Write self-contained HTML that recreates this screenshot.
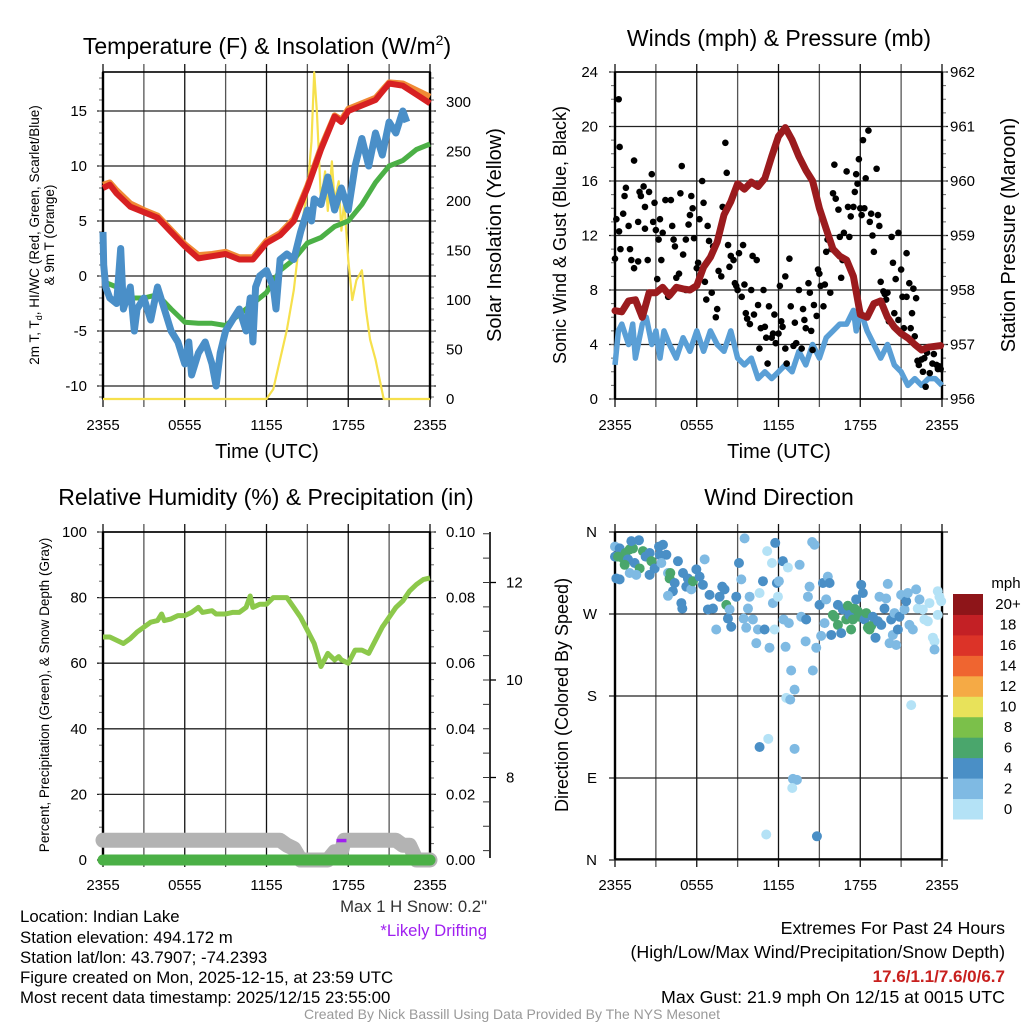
<!DOCTYPE html>
<html><head><meta charset="utf-8">
<style>
html,body{margin:0;padding:0;background:#fff;}
svg{display:block;font-family:"Liberation Sans",Arial,sans-serif;}
.t{font-size:16.8px;fill:#000;}
</style></head>
<body>
<svg id="fig" width="1024" height="1024" viewBox="0 0 1024 1024" xmlns="http://www.w3.org/2000/svg">
<g id="static">
<text x="267" y="54" text-anchor="middle" font-size="23">Temperature (F) &amp; Insolation (W/m<tspan font-size="14" dy="-9">2</tspan><tspan dy="9">)</tspan></text>
<text x="779" y="46" text-anchor="middle" font-size="23">Winds (mph) &amp; Pressure (mb)</text>
<text x="266" y="505" text-anchor="middle" font-size="23">Relative Humidity (%) &amp; Precipitation (in)</text>
<text x="779" y="505" text-anchor="middle" font-size="23">Wind Direction</text>

<text x="267" y="458" text-anchor="middle" font-size="20">Time (UTC)</text>
<text x="779" y="458" text-anchor="middle" font-size="20">Time (UTC)</text>

<text transform="translate(39,235) rotate(-90)" text-anchor="middle" font-size="13.5">2m T, T<tspan font-size="9" dy="3">d</tspan><tspan dy="-3">, HI/WC (Red, Green, Scarlet/Blue)</tspan></text>
<text transform="translate(54,235) rotate(-90)" text-anchor="middle" font-size="13.5">&amp; 9m T (Orange)</text>
<text transform="translate(501,235) rotate(-90)" text-anchor="middle" font-size="20">Solar Insolation (Yellow)</text>
<text transform="translate(566,235) rotate(-90)" text-anchor="middle" font-size="18">Sonic Wind &amp; Gust (Blue, Black)</text>
<text transform="translate(1015,235) rotate(-90)" text-anchor="middle" font-size="20">Station Pressure (Maroon)</text>
<text transform="translate(49,695) rotate(-90)" text-anchor="middle" font-size="13.5">Percent, Precipitation (Green), &amp; Snow Depth (Gray)</text>
<text transform="translate(568,695) rotate(-90)" text-anchor="middle" font-size="18">Direction (Colored By Speed)</text>

<g class="t">
<text x="20" y="922">Location: Indian Lake</text>
<text x="20" y="943">Station elevation: 494.172 m</text>
<text x="20" y="963">Station lat/lon: 43.7907; -74.2393</text>
<text x="20" y="983">Figure created on Mon, 2025-12-15, at 23:59 UTC</text>
<text x="20" y="1003">Most recent data timestamp: 2025/12/15 23:55:00</text>
</g>
<text x="487" y="912" text-anchor="end" font-size="16.7" fill="#333">Max 1 H Snow: 0.2"</text>
<text x="487" y="936" text-anchor="end" font-size="16.7" fill="#a020f0">*Likely Drifting</text>
<text x="1005" y="934" text-anchor="end" font-size="17.8">Extremes For Past 24 Hours</text>
<text x="1005" y="958" text-anchor="end" font-size="17.8">(High/Low/Max Wind/Precipitation/Snow Depth)</text>
<text x="1005" y="982" text-anchor="end" font-size="17" font-weight="bold" fill="#c8201e">17.6/1.1/7.6/0/6.7</text>
<text x="1005" y="1003" text-anchor="end" font-size="17.8">Max Gust: 21.9 mph On 12/15 at 0015 UTC</text>
<text x="512" y="1019" text-anchor="middle" font-size="14" fill="#999">Created By Nick Bassill Using Data Provided By The NYS Mesonet</text>
</g>
<g id="dyn"></g>
</svg>
<script>
// ---------- data ----------
const xTickLabels = ["2355","0555","1155","1755","2355"];
// Temperature panel (hours since 2355)
const tempTimes = [0,0.5,1,2,3,4,5,6,7,8,9,10,11,12,13,14,15,16,17,17.5,18,19,20,21,22,23,24];
const temp2m    = [8,8.3,7.5,6.3,5.8,5.3,4,2.7,1.6,1.8,2,1.5,1.5,3,3.7,5,8,11.5,14.5,14,15,15.5,16,17.5,17.3,16.5,15.7];
const temp9m    = [8.3,8.5,7.8,6.6,6,5.5,4.2,2.9,1.9,2,2.2,1.7,1.7,3.2,3.9,5.2,8.2,11.7,14.6,14.2,15.2,15.7,16.2,17.6,17.5,16.9,16.3];
const dewTimes  = [0,1,2,3,4,5,6,7,8,9,10,11,12,13,14,15,16,17,18,19,20,21,22,23,24];
const dewpoint  = [-0.5,-1,-2,-2,-1.7,-3,-4.2,-4.3,-4.3,-4.5,-3.5,-2.5,-1.5,0.5,1.5,3,3.5,4.5,5,6.5,8.5,10,10.5,11.5,12];
const wcTimes   = [0,0.05,0.2,0.5,1,1.3,1.5,2,2.3,2.5,3,3.5,4,4.5,5,5.5,6,6.3,6.5,7,7.5,8,8.3,8.6,9,9.5,10,10.5,10.8,11,11.2,11.5,12,12.5,12.7,13,13.5,14,14.5,15,15.3,15.5,16,16.5,17,17.5,18,18.5,19,19.5,20,20.5,21,21.5,22,22.3];
const windChill = [4,1,-1,-2,-2.5,2.5,-3,-1,-5,-3,-2,-4,-1,-3,-5,-6,-8,-6,-9,-7,-6,-8,-10,-7,-5,-4,-3,-5,-2,-6,-1,0,0.5,-1,-3,1.5,2,1.5,4,6,5,7,6.5,9,6,8,6,10,12.5,10,13,11,14,13,15,14];
const solTimes  = [0,12,12.5,13,13.5,14,14.5,15,15.3,15.5,15.7,16,16.3,16.5,16.8,17,17.3,17.5,17.7,18,18.3,18.6,19,19.3,19.6,20,20.3,20.6,24];
const solar     = [0,0,10,40,70,110,170,210,260,330,290,200,230,190,240,200,220,170,200,140,100,120,130,90,60,40,20,0,0];
const tempTicks = [-10,-5,0,5,10,15];
const solTicks  = [0,50,100,150,200,250,300];
// Winds panel
const windTimes = [0,0.25,0.5,1,1.3,1.5,2,2.3,2.7,3,3.3,3.6,4,4.5,5,5.5,6,6.5,7,7.5,8,8.5,9,9.5,10,10.5,11,11.5,12,12.5,13,13.5,14,14.5,15,15.5,16,16.5,17,17.5,17.7,18,18.5,19,19.5,20,20.5,21,21.5,22,22.5,23,23.5,24];
const windSpeed = [2.5,5,5.5,4,5.5,3,5.5,6,4,5,3,5,4,3,4.5,3.5,5,3.5,5,4,3.5,5,3,2.5,3,1.5,2,1.5,2,2.5,2,3.5,2.5,4,3,4.5,5,5.5,5.5,6.5,5,6.5,5,4,3,4,2.5,2,1,1.5,1,1.5,1.5,1];
const presTimes = [0,0.5,1,1.5,2,2.5,3,3.5,4,4.5,5,5.5,6,6.5,7,7.5,8,8.5,9,9.5,10,10.5,11,11.5,12,12.5,13,13.5,14,14.5,15,15.5,16,16.5,17,17.5,18,18.5,19,19.5,20,20.5,21,21.5,22,22.5,23,23.9];
const pressure  = [957.62,957.6,957.8,957.82,957.5,957.95,957.95,958.05,957.9,958.05,958.02,958,958.08,958.42,958.6,958.88,959.38,959.62,959.95,959.85,959.98,959.9,960.05,960.45,960.82,960.98,960.75,960.45,960.2,960,959.5,959.12,958.75,958.62,958.55,958.25,957.55,957.5,957.75,957.8,957.5,957.32,957.2,957.12,957,956.9,956.95,956.98];
const gustTimes = [0.27,0,0.1,0.34,0.4,0.3,0.6,0.7,0.8,1,1.1,1.2,1.4,1.4,1.7,1.7,1.8,1.9,2.1,2.2,2.2,2.4,2.5,2.7,2.8,2.9,3,3.1,3.2,3.3,3.4,3.5,3.7,3.9,4.1,4.2,4.3,4.4,4.5,4.7,4.8,4.9,5,5.2,5.2,5.4,5.5,5.6,5.7,5.8,6,6.1,6.2,6.4,6.5,6.6,6.7,6.8,6.9,7.1,7.2,7.4,7.5,7.6,7.8,7.9,8.1,8.2,8.3,8.4,8.5,8.7,8.8,8.9,9,9.1,9.3,9.4,9.5,9.6,9.7,9.9,10,10.1,10.2,10.4,10.5,10.6,10.7,10.9,11,11.1,11.2,11.3,11.5,11.6,11.7,11.8,12,12.1,12.2,12.3,12.5,12.5,12.6,12.8,12.9,13.1,13.2,13.3,13.5,13.7,13.8,13.9,14,14.2,14.3,14.4,14.5,14.6,14.8,14.9,15,15.1,15.3,15.4,15.5,15.6,15.8,15.9,16,16.1,16.2,16.4,16.5,16.6,16.7,16.8,17,17.1,17.2,17.3,17.5,17.6,17.7,17.8,17.9,18,18.1,18.2,18.3,18.4,18.6,18.7,18.8,18.9,19,19.2,19.3,19.4,19.5,19.7,19.8,19.9,20,20.1,20.3,20.4,20.5,20.6,20.8,20.8,21,21.1,21.2,21.4,21.4,21.6,21.7,21.8,21.9,22,22.1,22.2,22.3,22.5,22.6,22.7,22.8,22.9,23.1,23.3,23.4,23.6,23.7,23.8,23.9];
const gustSpeed = [22,10.3,13.2,18.5,11,12.3,13.6,14.9,15.5,12.7,11,10.2,17.5,9.6,10.1,13,15.2,14.9,15.6,14.1,12.5,10.2,15.2,16.5,13,14.4,12.4,8.8,11.7,13.2,10.2,12.2,14.6,7.5,14.6,12.7,11.7,11.2,8.9,9.2,15.1,17.1,10.6,8,11.7,12.8,13.5,14.9,14,11.8,9.6,10,13.2,16,14.4,8.6,7.3,12.7,11.6,7.8,11.2,6,6.6,9.4,9,14.1,18.8,16.6,11.3,9.7,10.5,10.2,8.5,8.3,8,10.7,7.5,11.3,8.4,6.3,5.9,5.5,8,10.5,6.2,10.2,6.9,3.7,5.2,8,5.3,4.5,2.6,6.8,4.5,4.8,6.2,4.1,4.8,8.3,5.7,5.3,9,3.7,2.6,10.3,6.8,3.9,5.6,4.1,8,3.7,6.6,5.8,5.2,8.5,7.8,5,3.6,6.9,6.1,9.5,9.2,8.3,6.8,8.4,10.8,11.7,7.8,11,15.1,17.2,14.7,13.9,11.9,8.9,10.2,12.2,16.7,14.1,11.9,13.4,14.1,15.2,16.5,15.8,17.6,14,13.5,19,14,16.2,19.7,13,13.6,12,10.8,16.9,13.5,12.7,8.6,7.9,7.7,7.3,7.8,5.7,11.9,10,6.3,8.8,5.8,12.2,9.5,7.5,5.2,7.5,10.7,8.5,5.2,6.3,8.1,4.6,7.4,2.8,2.5,2.9,2,3,0.9,3.4,1.9,2.6,3.3,2.5,2.2,2.4,2.2];
const windTicks = [0,4,8,12,16,20,24];
const presTicks = [956,957,958,959,960,961,962];
// Humidity panel
const rhTimes = [0,0.5,1,1.5,2,2.5,3,3.5,4,4.3,4.5,5,5.5,6,6.5,7,7.3,8,8.3,9,9.5,10,10.5,10.8,11,11.5,12,12.5,13,13.5,14,14.5,15,15.5,16,16.5,17,17.3,17.5,18,18.5,19,19.5,20,20.5,21,21.5,22,22.5,23,23.5,24];
const rh      = [68,68,67,66,67.5,69.5,71,72.5,73,75,73,73.5,74.5,74.5,75.5,77,75.5,76,75,75,75.5,75.5,77,80.5,77,78,78,80,80,80,77,74,70,66,59,63,61,62,61,60,64,64,63,67,71,74,77,79,82,84,85.5,86];
const snowTimes = [0,13,13.5,14,14.5,16.5,17,17.5,17.7,21.5,22,22.5,23,24];
const snowDepth = [6,6,4.5,3.5,0,0,2.5,2.5,6,6,4.5,4.5,0,0];
const precipTimes = [0,24];
const precip = [0,0];
const driftTime = 17.5, driftValue = 6;
const rhTicks = [0,20,40,60,80,100];
const precipTicks = ["0.00","0.02","0.04","0.06","0.08","0.10"];
const snowTicks = [8,10,12];
// Wind direction panel
const dirTimes = [0,0,0.34,0.22,0.59,0.78,1.08,1.32,1.2,1.76,0.95,1.44,1.81,1.56,1.08,0.34,0.1,0.71,2.05,2.25,2.54,2.67,2.91,2.54,3.23,3.52,3.28,3.77,3.4,3.89,4.06,4.01,4.38,4.25,3.89,4.62,4.99,4.87,4.94,5.23,5.35,5.6,5.72,5.97,6.21,6.45,6.58,6.82,6.94,7.19,7.43,7.68,7.87,8.04,8.17,8.41,8.29,8.53,8.9,9.1,9.27,9.44,9.51,9.63,9.76,9.88,10.12,10.49,10.61,10.37,10.86,10.98,11.17,11.34,11.52,11.59,11.71,11.76,11.88,11.96,12.03,12.32,12.37,12.52,12.69,12.76,12.93,13.18,12.57,12.86,10.61,11.25,13.18,13.06,13.35,13.01,11.1,14.82,13.55,13.67,14.03,13.99,14.16,14.28,14.47,14.64,14.52,14.77,15.01,15.13,15.26,15.38,15.5,15.62,15.75,15.87,15.99,16.11,16.36,16.36,16.6,16.72,16.97,17.09,17.21,17.33,17.46,17.58,17.7,17.82,17.95,18.07,18.19,18.31,18.44,18.56,18.68,18.8,18.92,19.12,19.29,19.41,19.54,19.78,19.9,20.02,20.15,20.27,20.39,20.51,20.64,20.76,20.88,21,21.25,21.37,21.49,21.61,21.74,21.86,22.1,22.22,22.35,22.59,22.71,22.96,23.08,23.33,23.45,23.45,23.69,23.81,23.94,23.69];
const dirDegrees = [344,333,342,333,331,337,341,342,350,351,330,326,320,313,315,308,309,324,339,333,337,328,320,313,344,346,335,335,326,315,315,309,304,295,290,328,315,282,276,300,309,297,306,319,311,302,330,275,291,276,253,289,300,297,280,275,265,256,289,326,308,265,353,255,276,289,264,253,293,238,306,253,339,233,326,282,253,348,304,289,306,328,264,234,321,260,208,187,178,176,124,133,122,89,88,79,28,26,324,267,264,240,289,300,349,346,208,233,280,246,304,260,286,311,304,247,269,267,280,258,249,275,264,279,269,253,264,276,286,273,267,302,293,264,271,255,253,257,267,244,262,289,258,276,287,303,238,264,247,271,236,253,267,291,275,284,293,258,170,253,297,276,286,275,264,262,282,244,240,231,295,289,284,269];
const dirSpeed = [3,5,5,7,7,7,7,7,5,5,5,5,7,3,3,5,5,7,7,5,5,7,5,5,5,5,5,5,3,3,7,7,5,5,3,5,5,5,5,5,5,3,7,5,5,5,3,5,5,5,3,5,5,5,7,3,5,5,5,5,3,3,3,3,3,3,3,3,1,3,5,5,1,3,1,3,1,5,5,1,3,5,3,3,1,3,3,3,1,3,5,1,3,3,3,1,1,5,3,3,5,3,3,3,3,3,3,3,5,3,5,3,3,3,5,5,7,7,5,7,5,5,7,7,5,7,7,7,5,7,7,5,5,5,7,7,7,7,5,5,5,3,5,5,3,3,3,5,3,3,3,5,5,3,3,5,3,3,1,3,3,1,3,1,1,1,1,1,1,3,1,1,1,1];
const dirTickLabels = ["N","E","S","W","N"];
const speedBinLabels = ["0","2","4","6","8","10","12","14","16","18","20+"];
const speedColors = ["#b4e2f6","#7fbae3","#4a8fc6","#4aa66c","#7bc04a","#e8e25a","#f5aa45","#ef6530","#dc3328","#c32025","#8e1519"];

// ---------- helpers ----------
const NS="http://www.w3.org/2000/svg";
const root=document.getElementById('dyn');
function mk(tag,attrs,parent){const e=document.createElementNS(NS,tag);for(const k in attrs)e.setAttribute(k,attrs[k]);(parent||root).appendChild(e);return e;}
function pts(ts,vs,fx,fy){return ts.map((t,i)=>fx(t).toFixed(1)+','+fy(vs[i]).toFixed(1)).join(' ');}

function panel(x0,y0,name){
  const P={x0:x0,x1:x0+327,y0:y0,y1:y0+327};
  P.x=t=>P.x0+t*(327/24);
  const g=mk('g',{});
  
  
  P.g=g;
  return P;
}
function grid(P,ys,minorYs){
  for(let h=0;h<=24;h+=3){
    const x=P.x(h);
    const l=mk('line',{x1:x,x2:x,y1:P.y0-8,y2:P.y1+8,stroke:(h%6==0?'#111':'#555'),'stroke-width':1.3},P.g);
    
    
  }
  ys.forEach(y=>{
    const l=mk('line',{x1:P.x0-6,x2:P.x1+6,y1:y,y2:y,stroke:'#222','stroke-width':1.3},P.g);
    
    
  });
  (minorYs||[]).forEach(y=>{
    mk('line',{x1:P.x0-4,x2:P.x0,y1:y,y2:y,stroke:'#666','stroke-width':1},P.g);
    mk('line',{x1:P.x1,x2:P.x1+4,y1:y,y2:y,stroke:'#666','stroke-width':1},P.g);
  });
  const f=mk('rect',{x:P.x0,y:P.y0,width:327,height:327,fill:'none',stroke:'#000','stroke-width':1.6},P.g);
  
  
  mk('line',{x1:P.x0,x2:P.x0,y1:P.y0,y2:P.y1,stroke:'#000','stroke-width':2.4},P.g);
  mk('line',{x1:P.x1,x2:P.x1,y1:P.y0,y2:P.y1,stroke:'#000','stroke-width':2.4},P.g);
  xTickLabels.forEach((s,i)=>{
    const tx=mk('text',{x:P.x(i*6),y:P.y1+31,'text-anchor':'middle','font-size':15},P.g);
    tx.textContent=s;
    
    
  });
}
function label(txt,x,y,anchor,parent){
  const tx=mk('text',{x:x,y:y+5,'text-anchor':anchor,'font-size':15},parent);
  tx.textContent=txt;
  
  
  return tx;
}

// ---------- Panel 1: temperature ----------
{
const P=panel(103,72,'temperature-panel');
const yT=v=>276-v*11, yS=w=>399-w*0.99;
const minor=[];for(let v=-11;v<=18;v++)minor.push(yT(v));
grid(P,tempTicks.map(yT),minor);
tempTicks.forEach(v=>label(String(v),87,yT(v),'end',P.g));
solTicks.forEach(v=>label(String(v),446,yS(v),'start',P.g));
let e;
e=mk('polyline',{points:pts(solTimes,solar,P.x,yS),fill:'none',stroke:'#f6e04c','stroke-width':2.2,'stroke-linejoin':'round'},P.g);


e=mk('polyline',{points:pts(dewTimes,dewpoint,P.x,yT),fill:'none',stroke:'#4bb046','stroke-width':5,'stroke-linejoin':'round'},P.g);


e=mk('polyline',{points:pts(wcTimes,windChill,P.x,yT),fill:'none',stroke:'#4a8fc8','stroke-width':7,'stroke-linejoin':'round'},P.g);


e=mk('polyline',{points:pts(tempTimes,temp9m,P.x,yT),fill:'none',stroke:'#f08a35','stroke-width':6,'stroke-linejoin':'round'},P.g);


e=mk('polyline',{points:pts(tempTimes,temp2m,P.x,yT),fill:'none',stroke:'#d72022','stroke-width':6,'stroke-linejoin':'round'},P.g);


}

// ---------- Panel 2: winds ----------
{
const P=panel(615,72,'winds-panel');
const yW=v=>399-v*(327/24), yP=m=>399-(m-956)*54.5;
const minor=[];for(let v=0;v<=24;v+=1)minor.push(yW(v));
grid(P,windTicks.map(yW),minor);
windTicks.forEach(v=>label(String(v),598,yW(v),'end',P.g));
presTicks.forEach(v=>label(String(v),950,yP(v),'start',P.g));
let e=mk('polyline',{points:pts(windTimes,windSpeed,P.x,yW),fill:'none',stroke:'#5a9fd6','stroke-width':5.5,'stroke-linejoin':'round'},P.g);


gustTimes.forEach((t,i)=>{
  const c=mk('circle',{cx:P.x(t),cy:yW(gustSpeed[i]),r:3.3,fill:'#000'},P.g);
  
  
});
e=mk('polyline',{points:pts(presTimes,pressure,P.x,yP),fill:'none',stroke:'#9b1b1e','stroke-width':7,'stroke-linejoin':'round','stroke-linecap':'round'},P.g);


}

// ---------- Panel 3: humidity ----------
{
const P=panel(103,532,'humidity-panel');
const yR=v=>860-v*3.28;
const minor=[];for(let v=0;v<=100;v+=5)minor.push(yR(v));
grid(P,rhTicks.map(yR),minor);
rhTicks.forEach(v=>label(String(v),87,yR(v),'end',P.g));
precipTicks.forEach((s,i)=>label(s,446,yR(i*20),'start',P.g));
const ax=mk('line',{x1:490,x2:490,y1:532,y2:858,stroke:'#000','stroke-width':1.6},P.g);


const ySn=d=>680-(d-10)*48.75;
for(let d=6.5;d<=13.2;d+=0.5){const y=ySn(d);if(y>=532&&y<=860)mk('line',{x1:483,x2:490,y1:y,y2:y,stroke:'#333','stroke-width':1},P.g);}
snowTicks.forEach(v=>{mk('line',{x1:490,x2:496,y1:ySn(v),y2:ySn(v),stroke:'#000','stroke-width':1.3},P.g);label(String(v),506,ySn(v),'start',P.g);});
let e=mk('polyline',{points:pts(snowTimes,snowDepth,P.x,yR),fill:'none',stroke:'#b3b3b3','stroke-width':15,'stroke-linejoin':'round','stroke-linecap':'round'},P.g);


e=mk('polyline',{points:pts(precipTimes,precip,P.x,yR),fill:'none',stroke:'#4bb046','stroke-width':11,'stroke-linecap':'round'},P.g);


e=mk('rect',{x:P.x(driftTime)-5,y:yR(driftValue)-1.5,width:10,height:3.5,fill:'#a020f0'},P.g);


e=mk('polyline',{points:pts(rhTimes,rh,P.x,yR),fill:'none',stroke:'#8cc84b','stroke-width':5,'stroke-linejoin':'round'},P.g);


}

// ---------- Panel 4: wind direction ----------
{
const P=panel(615,532,'wind-direction-panel');
const yD=d=>860-d*(328/360);
const dirVals=[0,90,180,270,360];
grid(P,dirVals.map(yD),[]);
dirVals.forEach((v,i)=>{label(dirTickLabels[i],597,yD(v),'end',P.g);});
dirTimes.forEach((t,i)=>{
  const bin=Math.min(10,Math.floor(dirSpeed[i]/2));
  const c=mk('circle',{cx:P.x(t),cy:yD(dirDegrees[i]),r:5,fill:speedColors[bin]},P.g);
  
  
});
const cb=mk('g',{});


const cbTop=594,cbBot=819,bh=(cbBot-cbTop)/11;
speedColors.forEach((c,i)=>{
  const y=cbBot-(i+1)*bh;
  const r=mk('rect',{x:953,y:y,width:30,height:bh+0.5,fill:c},cb);
  
  
  const tx=mk('text',{x:1008,y:y+bh/2+5,'text-anchor':'middle','font-size':15},cb);
  tx.textContent=speedBinLabels[i];
  
  
});
const u=mk('text',{x:1006,y:588,'text-anchor':'middle','font-size':15},cb);
u.textContent='mph';


}
</script>
</body></html>
